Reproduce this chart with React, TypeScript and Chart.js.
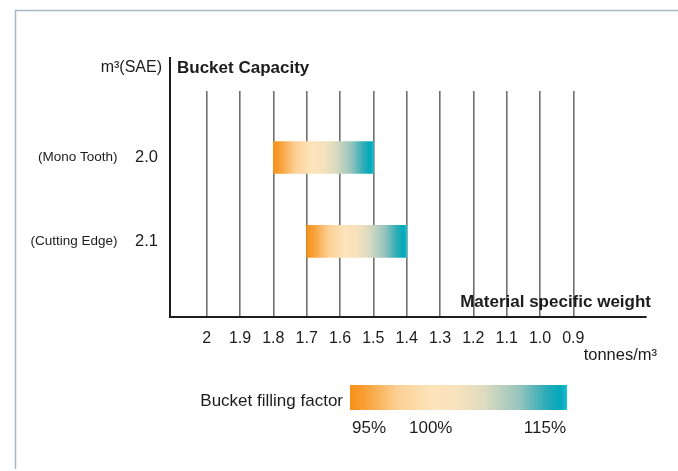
import React, { useEffect, useRef } from "react";
import { Chart, registerables } from "chart.js";

Chart.register(...registerables);

// ---- data ----
const bucketTypes = ["(Mono Tooth)", "(Cutting Edge)"];
const bucketCapacities = ["2.0", "2.1"];
const weightHigh = [1.8, 1.7];
const weightLow = [1.5, 1.4];
const weightTickValues = [2.0, 1.9, 1.8, 1.7, 1.6, 1.5, 1.4, 1.3, 1.2, 1.1, 1.0, 0.9];
const weightTickLabels = ["2", "1.9", "1.8", "1.7", "1.6", "1.5", "1.4", "1.3", "1.2", "1.1", "1.0", "0.9"];
const fillingFactorLabels = ["95%", "100%", "115%"];

const FONT = "'Liberation Sans', Arial, Helvetica, sans-serif";
const TEXT = "#1c1c1c";

const gradientStops: [number, string][] = [
  [0, "#f7911a"],
  [0.07, "#f8a036"],
  [0.22, "#fcd095"],
  [0.38, "#fde4bb"],
  [0.5, "#f7e2bc"],
  [0.62, "#dcdbc0"],
  [0.78, "#96c4bd"],
  [0.9, "#2eacb8"],
  [0.97, "#00a8b9"],
  [1, "#1cc0d2"],
];

function makeGradient(ctx: CanvasRenderingContext2D, x0: number, x1: number) {
  const g = ctx.createLinearGradient(x0, 0, x1, 0);
  gradientStops.forEach(([o, c]) => g.addColorStop(o, c));
  return g;
}

const decorPlugin = {
  id: "decor",
  afterDraw(chart: any) {
    const { ctx, chartArea, scales } = chart;
    const y = scales.y;
    ctx.save();
    // frame
    ctx.strokeStyle = "#a9b9c3";
    ctx.lineWidth = 1.5;
    ctx.beginPath();
    ctx.moveTo(15.5, 469);
    ctx.lineTo(15.5, 10.5);
    ctx.lineTo(678, 10.5);
    ctx.stroke();

    // vertical axis line
    ctx.strokeStyle = "#1e1e1e";
    ctx.lineWidth = 2;
    ctx.beginPath();
    ctx.moveTo(chartArea.left, 57);
    ctx.lineTo(chartArea.left, chartArea.bottom);
    ctx.stroke();

    ctx.fillStyle = TEXT;
    ctx.textBaseline = "middle";
    // headers
    ctx.font = `16px ${FONT}`;
    ctx.textAlign = "right";
    ctx.fillText("m³(SAE)", chartArea.left - 8, 68);
    ctx.font = `bold 17px ${FONT}`;
    ctx.textAlign = "left";
    ctx.fillText("Bucket Capacity", chartArea.left + 7, 68);

    // row labels
    bucketTypes.forEach((t, i) => {
      const py = y.getPixelForValue(i);
      ctx.font = `13.5px ${FONT}`;
      ctx.textAlign = "right";
      ctx.fillText(t, 117.5, py);
      ctx.font = `16.5px ${FONT}`;
      ctx.fillText(bucketCapacities[i], 158, py);
    });

    // axis title
    ctx.font = `bold 17px ${FONT}`;
    ctx.textAlign = "right";
    ctx.fillText("Material specific weight", 651, 302);
    ctx.font = `16.5px ${FONT}`;
    ctx.fillText("tonnes/m³", 657, 355);

    // filling factor legend
    ctx.textAlign = "right";
    ctx.font = `17px ${FONT}`;
    ctx.fillText("Bucket filling factor", 343, 401);
    const lx0 = 350, lx1 = 567;
    ctx.fillStyle = makeGradient(ctx, lx0, lx1);
    ctx.fillRect(lx0, 385, lx1 - lx0, 25);
    ctx.fillStyle = TEXT;
    ctx.font = `17px ${FONT}`;
    ctx.textAlign = "left";
    ctx.fillText(fillingFactorLabels[0], 352, 428);
    ctx.fillText(fillingFactorLabels[1], 409, 428);
    ctx.textAlign = "right";
    ctx.fillText(fillingFactorLabels[2], 566, 428);
    ctx.restore();
  },
};

export default function App() {
  const ref = useRef<HTMLCanvasElement | null>(null);

  useEffect(() => {
    if (!ref.current) return;
    const chart = new Chart(ref.current, {
      type: "bar",
      data: {
        datasets: [
          {
            data: bucketTypes.map((_, i) => ({ x: [weightHigh[i], weightLow[i]], y: i })) as any,
            barThickness: 32,
            borderWidth: 0,
            backgroundColor: (c: any) => {
              const chart = c.chart;
              const xs = chart.scales?.x;
              if (!c.raw || !xs || !chart.chartArea) return "#f7911a";
              const p0 = xs.getPixelForValue(c.raw.x[0]);
              const p1 = xs.getPixelForValue(c.raw.x[1]);
              return makeGradient(chart.ctx, Math.min(p0, p1), Math.max(p0, p1));
            },
          },
        ],
      },
      options: {
        indexAxis: "y",
        responsive: false,
        animation: false,
        layout: { padding: { left: 170, right: 32, top: 91, bottom: 110.8 } },
        plugins: { legend: { display: false }, tooltip: { enabled: false } },
        scales: {
          x: {
            type: "linear",
            reverse: true,
            min: 0.682,
            max: 2.11,
            afterBuildTicks: (scale: any) => {
              scale.ticks = weightTickValues.map((v) => ({ value: v }));
            },
            ticks: {
              padding: 12,
              autoSkip: false,
              maxRotation: 0,
              color: TEXT,
              font: { family: FONT, size: 16 },
              callback: (v: any) => {
                const i = weightTickValues.findIndex((t) => Math.abs(t - Number(v)) < 1e-6);
                return i >= 0 ? weightTickLabels[i] : "";
              },
            },
            grid: { color: "#707070", lineWidth: 1.6, drawTicks: false },
            border: { display: true, color: "#1e1e1e", width: 2 },
          },
          y: {
            type: "linear",
            display: false,
            offset: false,
            reverse: true,
            min: -0.794,
            max: 1.903,
          },
        },
      },
      plugins: [decorPlugin],
    });
    return () => chart.destroy();
  }, []);

  return (
    <div style={{ position: "absolute", left: 0, top: 0, width: 678, height: 471, background: "#fff" }}>
      <canvas ref={ref} width={678} height={471} style={{ width: 678, height: 471, display: "block" }} />
    </div>
  );
}
